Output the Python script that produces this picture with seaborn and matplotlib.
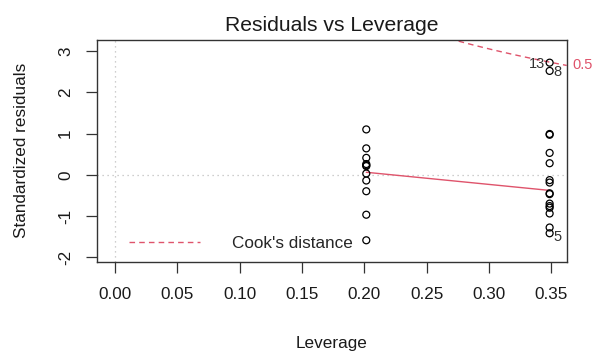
import numpy as np
import pandas as pd
import matplotlib
matplotlib.use("Agg")
import matplotlib.pyplot as plt
import seaborn as sns

# Leverage of each observation and its standardized residual
lev_low = 0.2016
lev_high = 0.3487
resid_low = [1.10, 0.64, 0.41, 0.26, 0.23, 0.21, 0.03, -0.14, -0.40, -0.97, -1.59]
resid_high = [2.72, 2.52, 0.99, 0.97, 0.53, 0.28, -0.13, -0.19, -0.45, -0.47,
              -0.70, -0.76, -0.80, -0.94, -1.28, -1.42]

# Labelled observations (id, residual, side of the point)
labelled_ids = ["13", "8", "5"]
labelled_resid = [2.72, 2.52, -1.42]
labelled_side = ["left", "right", "right"]

# Lowess smoother end values
smooth_x = [lev_low, lev_high]
smooth_y = [0.06, -0.38]

# Cook's distance contour
cook_level = 0.5
n_params = 8

x_ticks = [0.00, 0.05, 0.10, 0.15, 0.20, 0.25, 0.30, 0.35]
y_ticks = [-2, -1, 0, 1, 2, 3]
xlim = (-0.0147, 0.3624)
ylim = (-2.11, 3.27)

df = pd.DataFrame({
    "Leverage": [lev_low] * len(resid_low) + [lev_high] * len(resid_high),
    "Residual": resid_low + resid_high,
})

sns.set_theme(style="white")
plt.rcParams["font.family"] = ["Liberation Sans", "DejaVu Sans"]

fig = plt.figure(figsize=(5.98, 3.54), dpi=100)
ax = fig.add_axes([96.7 / 598, 1 - 261.7 / 354, 470 / 598, 221.7 / 354])

red = "#DF536B"

# reference lines
ax.axhline(0, color="#BEBEBE", lw=0.9, ls=(0, (1, 3)), zorder=1)
ax.axvline(0, color="#BEBEBE", lw=0.9, ls=(0, (1, 3)), zorder=1)

sns.scatterplot(data=df, x="Leverage", y="Residual", ax=ax, marker="o",
                facecolor="none", edgecolor="black", linewidth=0.9, s=25,
                zorder=3, legend=False)

sns.lineplot(x=smooth_x, y=smooth_y, ax=ax, color=red, lw=1.0, zorder=2)

hh = np.linspace(lev_low / 100, xlim[1], 101)
cook_curve = np.sqrt(cook_level * n_params * (1 - hh) / hh)
ax.plot(hh, cook_curve, color=red, lw=1.0, ls=(0, (4, 3)), zorder=2)
ax.plot(hh, -cook_curve, color=red, lw=1.0, ls=(0, (4, 3)), zorder=2)

# contour level label at right edge
y_lab = np.sqrt(cook_level * n_params * (1 - xlim[1]) / xlim[1])
ax.annotate(f"{cook_level:g}", xy=(1.0, y_lab), xycoords=("axes fraction", "data"),
            xytext=(4, 0), textcoords="offset points", color=red,
            fontsize=10.5, va="center", ha="left", annotation_clip=False)

for lab, r, side in zip(labelled_ids, labelled_resid, labelled_side):
    dx = -3 if side == "left" else 3
    ax.annotate(lab, xy=(lev_high, r), xytext=(dx, -3 if lab == "5" else -1),
                textcoords="offset points", fontsize=10.5, color="#333333",
                ha="right" if side == "left" else "left", va="center")

ax.set_xlim(*xlim)
ax.set_ylim(*ylim)
ax.set_xticks(x_ticks)
ax.set_xticklabels([f"{v:.2f}" for v in x_ticks])
ax.set_yticks(y_ticks)
ax.set_yticklabels([str(v) for v in y_ticks], rotation=90, va="center")

for s in ax.spines.values():
    s.set_color("#333333")
    s.set_linewidth(1.0)
ax.tick_params(axis="both", direction="out", length=8, width=0.9,
               color="#333333", labelsize=12.3, labelcolor="#1a1a1a",
               bottom=True, left=True)
ax.tick_params(axis="x", pad=10)
ax.tick_params(axis="y", pad=9)

ax.set_xlabel("Leverage", fontsize=12.3, color="#1a1a1a", labelpad=25)
ax.set_ylabel("Standardized residuals", fontsize=12.3, color="#1a1a1a", labelpad=21)
ax.set_title("Residuals vs Leverage", fontsize=15.2, color="#1a1a1a", pad=6.5)

# legend for the Cook's distance contour
ax.plot([], [], color=red, lw=1.0, ls=(0, (4, 3)), label="Cook's distance")
ax.legend(loc="lower left", frameon=False, fontsize=12.3, handlelength=4.1,
          bbox_to_anchor=(0.02 + 8 / 470, -5 / 221.7), handletextpad=1.9)

fig.savefig("out.png", dpi=100)
